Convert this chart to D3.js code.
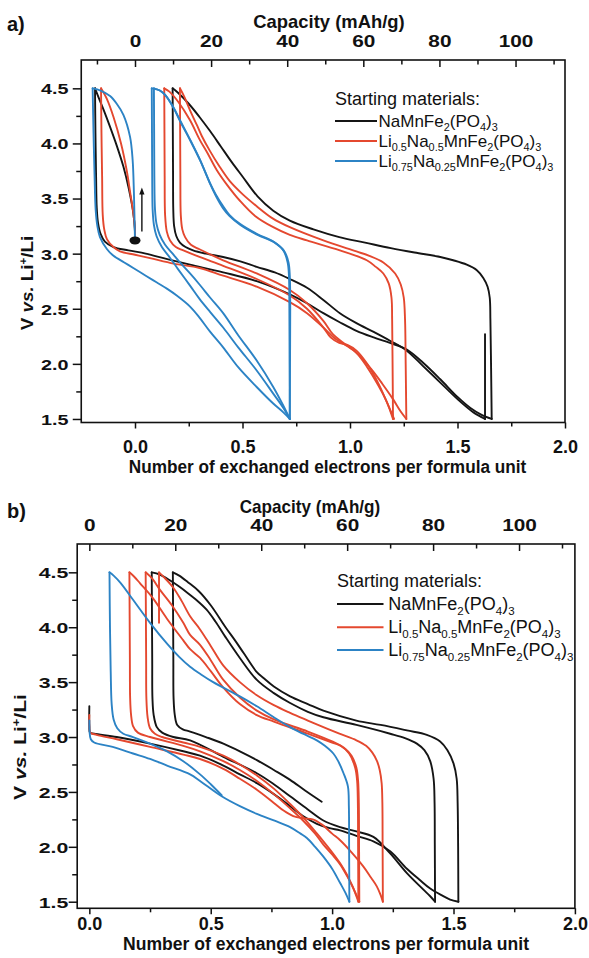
<!DOCTYPE html>
<html>
<head>
<meta charset="utf-8">
<script src="https://cdn.jsdelivr.net/npm/d3@7"></script>
<style>
  html, body { margin: 0; padding: 0; background: #fff; }
  svg { display: block; }
</style>
</head>
<body>
<svg id="fig" width="589" height="958"></svg>
<script>
// ---------------------------------------------------------------------------
// Galvanostatic cycling curves: voltage (V vs. Li+/Li) against the number of
// exchanged electrons per formula unit. Each series is a list of charge /
// discharge segments, each segment a list of [electrons, volts] pairs.
// ---------------------------------------------------------------------------

const seriesNames = [
  "NaMnFe2(PO4)3",
  "Li0.5Na0.5MnFe2(PO4)3",
  "Li0.75Na0.25MnFe2(PO4)3"
];

// capacity (mAh/g) corresponding to one exchanged electron
const capacityPerElectron = 56.5;

const voltTicks = [1.5, 2.0, 2.5, 3.0, 3.5, 4.0, 4.5];
const voltMinorTicks = [1.75, 2.25, 2.75, 3.25, 3.75, 4.25];
const electronTicks = [0.0, 0.5, 1.0, 1.5, 2.0];
const electronMinorTicks = [0.25, 0.75, 1.25, 1.75];
const capacityTicks = [0, 20, 40, 60, 80, 100];
const capacityMinorTicks = [-10, 10, 30, 50, 70, 90, 110];

// ---- panel a ----
const aBlack = [
  [[0,3.12],[0,3.2],[-0.008,3.37],[-0.03,3.6],[-0.054,3.79],[-0.085,3.98],[-0.116,4.15],[-0.145,4.3],[-0.17,4.42],[-0.186,4.5]],
  [[-0.186,4.5],[-0.184,4.1],[-0.181,3.7],[-0.178,3.42],[-0.172,3.28],[-0.16,3.18],[-0.14,3.11],[-0.1,3.06],[-0.03,3.03],[0.05,3.0],[0.15,2.95],[0.256,2.9],[0.41,2.83],[0.566,2.75],[0.72,2.63],[0.8,2.55],[0.876,2.46],[0.95,2.38],[1.03,2.3],[1.11,2.24],[1.186,2.19],[1.264,2.13],[1.34,2.01],[1.42,1.86],[1.5,1.7],[1.56,1.6],[1.61,1.54],[1.659,1.5]],
  [[1.659,1.5],[1.656,2.0],[1.653,2.4],[1.65,2.6],[1.64,2.7],[1.62,2.78],[1.59,2.85],[1.543,2.9],[1.48,2.94],[1.42,2.97],[1.3,3.01],[1.19,3.05],[1.07,3.1],[0.95,3.15],[0.83,3.22],[0.72,3.3],[0.643,3.39],[0.57,3.52],[0.5,3.7],[0.45,3.83],[0.4,3.97],[0.35,4.11],[0.3,4.24],[0.25,4.36],[0.2,4.46],[0.175,4.5]],
  [[0.175,4.5],[0.176,4.1],[0.177,3.7],[0.178,3.4],[0.182,3.25],[0.192,3.16],[0.209,3.1],[0.235,3.06],[0.27,3.03],[0.33,3.0],[0.41,2.97],[0.49,2.93],[0.566,2.88],[0.65,2.83],[0.72,2.77],[0.8,2.69],[0.876,2.58],[0.953,2.46],[1.03,2.37],[1.11,2.29],[1.186,2.21],[1.264,2.12],[1.34,1.98],[1.42,1.83],[1.5,1.68],[1.574,1.56],[1.628,1.5]],
  [[1.628,1.5],[1.628,2.27]]
];

const aRed = [
  [[0,3.12],[0,3.22],[-0.008,3.37],[-0.022,3.55],[-0.039,3.76],[-0.065,4.0],[-0.1,4.24],[-0.13,4.4],[-0.158,4.5]],
  [[-0.158,4.5],[-0.156,4.1],[-0.153,3.7],[-0.15,3.35],[-0.143,3.22],[-0.13,3.13],[-0.1,3.06],[-0.07,3.02],[0,2.99],[0.07,2.96],[0.18,2.91],[0.3,2.87],[0.41,2.8],[0.566,2.7],[0.72,2.56],[0.8,2.46],[0.876,2.33],[0.93,2.23],[0.98,2.17],[1.03,2.1],[1.1,1.95],[1.15,1.82],[1.2,1.68],[1.235,1.57],[1.262,1.5]],
  [[1.262,1.5],[1.259,2.0],[1.256,2.4],[1.25,2.6],[1.236,2.72],[1.21,2.82],[1.155,2.92],[1.09,2.98],[1.03,3.02],[0.876,3.12],[0.72,3.24],[0.64,3.32],[0.566,3.43],[0.5,3.54],[0.44,3.66],[0.39,3.8],[0.349,3.93],[0.31,4.07],[0.287,4.17],[0.256,4.3],[0.23,4.42],[0.209,4.5]],
  [[0.209,4.5],[0.21,4.1],[0.211,3.7],[0.213,3.35],[0.22,3.22],[0.233,3.15],[0.26,3.08],[0.3,3.04],[0.41,2.94],[0.566,2.82],[0.72,2.67],[0.8,2.55],[0.876,2.39],[0.92,2.27],[0.97,2.19],[1.03,2.1],[1.08,1.97],[1.13,1.81],[1.17,1.66],[1.2,1.5]],
  [[1.2,1.5],[1.198,2.0],[1.196,2.4],[1.193,2.6],[1.18,2.73],[1.155,2.82],[1.12,2.88],[1.078,2.94],[0.953,3.03],[0.8,3.12],[0.72,3.17],[0.643,3.24],[0.56,3.34],[0.488,3.48],[0.43,3.62],[0.38,3.76],[0.335,3.92],[0.302,4.03],[0.256,4.21],[0.2,4.38],[0.16,4.47],[0.136,4.5]],
  [[0.136,4.5],[0.137,4.1],[0.138,3.7],[0.14,3.35],[0.148,3.2],[0.163,3.12],[0.19,3.06],[0.225,3.03],[0.3,2.97],[0.41,2.89],[0.566,2.77],[0.72,2.62],[0.8,2.5],[0.876,2.33],[0.91,2.24],[0.95,2.19],[0.99,2.17],[1.03,2.12],[1.08,2.0],[1.13,1.83],[1.17,1.66],[1.205,1.5]]
];

const aBlue = [
  [[0,3.12],[-0.002,3.3],[-0.005,3.55],[-0.011,3.85],[-0.023,4.06],[-0.054,4.26],[-0.085,4.36],[-0.116,4.43],[-0.16,4.48],[-0.197,4.5]],
  [[-0.197,4.5],[-0.193,4.1],[-0.188,3.7],[-0.183,3.4],[-0.175,3.25],[-0.163,3.15],[-0.13,3.04],[-0.1,2.98],[-0.05,2.92],[-0.008,2.87],[0.05,2.8],[0.1,2.74],[0.15,2.68],[0.194,2.62],[0.256,2.52],[0.3,2.42],[0.35,2.29],[0.41,2.15],[0.48,1.97],[0.566,1.79],[0.643,1.64],[0.69,1.56],[0.72,1.5]],
  [[0.72,1.5],[0.719,2.0],[0.718,2.5],[0.716,2.8],[0.71,2.92],[0.69,3.03],[0.643,3.11],[0.566,3.18],[0.488,3.27],[0.44,3.35],[0.41,3.43],[0.375,3.54],[0.349,3.64],[0.302,3.85],[0.256,4.03],[0.21,4.2],[0.178,4.33],[0.14,4.44],[0.116,4.48],[0.078,4.5]],
  [[0.078,4.5],[0.079,4.1],[0.08,3.7],[0.082,3.4],[0.088,3.26],[0.1,3.16],[0.125,3.06],[0.16,2.97],[0.2,2.86],[0.256,2.71],[0.3,2.59],[0.35,2.47],[0.41,2.33],[0.48,2.15],[0.566,1.94],[0.643,1.73],[0.69,1.6],[0.72,1.5]],
  [[0.72,1.5],[0.721,2.0],[0.722,2.5],[0.72,2.8],[0.714,2.92],[0.695,3.02],[0.65,3.1],[0.57,3.17],[0.49,3.26],[0.44,3.34],[0.41,3.41],[0.377,3.52],[0.35,3.63],[0.305,3.84],[0.26,4.02],[0.215,4.19],[0.18,4.32],[0.14,4.44],[0.115,4.48],[0.088,4.5]],
  [[0.088,4.5],[0.089,4.1],[0.09,3.7],[0.093,3.4],[0.1,3.27],[0.115,3.17],[0.14,3.08],[0.175,3.0],[0.209,2.92],[0.256,2.82],[0.3,2.72],[0.35,2.6],[0.41,2.46],[0.48,2.26],[0.566,2.03],[0.643,1.79],[0.69,1.62],[0.72,1.5]]
];

// open-circuit starting point and the arrow marking the first charge
const aStartPoint = [0, 3.12];
const aStartArrow = [[0.032, 3.2], [0.032, 3.6]];

// ---- panel b ----
const bBlack = [
  [[0,3.28],[0,3.1],[0.003,3.04],[0.02,3.03],[0.113,3.0],[0.25,2.94],[0.387,2.87],[0.456,2.83],[0.552,2.74],[0.62,2.66],[0.69,2.58],[0.76,2.48],[0.827,2.37],[0.88,2.28],[0.937,2.21],[0.99,2.17],[1.033,2.15],[1.1,2.1],[1.17,2.05],[1.239,1.96],[1.308,1.8],[1.36,1.7],[1.404,1.62],[1.45,1.56],[1.486,1.52],[1.52,1.5]],
  [[1.52,1.5],[1.519,2.0],[1.517,2.4],[1.513,2.62],[1.5,2.76],[1.475,2.88],[1.445,2.96],[1.39,3.02],[1.308,3.06],[1.2,3.11],[1.1,3.15],[0.964,3.24],[0.9,3.3],[0.827,3.37],[0.76,3.46],[0.716,3.54],[0.69,3.59],[0.637,3.76],[0.6,3.88],[0.561,4.0],[0.5,4.2],[0.45,4.33],[0.406,4.41],[0.37,4.47],[0.344,4.5]],
  [[1.424,1.5],[1.423,2.0],[1.422,2.4],[1.418,2.62],[1.404,2.78],[1.38,2.88],[1.349,2.94],[1.3,2.99],[1.239,3.03],[1.1,3.11],[0.964,3.18],[0.9,3.23],[0.827,3.31],[0.76,3.4],[0.69,3.52],[0.62,3.72],[0.561,3.91],[0.52,4.05],[0.483,4.16],[0.44,4.25],[0.406,4.31],[0.37,4.37],[0.33,4.43],[0.29,4.48],[0.257,4.5]],
  [[0.257,4.5],[0.258,4.1],[0.259,3.7],[0.26,3.35],[0.265,3.2],[0.278,3.09],[0.3,3.04],[0.346,3.0],[0.415,2.97],[0.552,2.82],[0.69,2.67],[0.76,2.57],[0.827,2.46],[0.9,2.34],[0.964,2.24],[1.033,2.18],[1.1,2.14],[1.17,2.09],[1.239,1.94],[1.308,1.76],[1.376,1.61],[1.404,1.55],[1.424,1.5]],
  [[0.344,4.5],[0.345,4.1],[0.346,3.7],[0.347,3.35],[0.352,3.2],[0.362,3.11],[0.385,3.07],[0.415,3.05],[0.48,3.0],[0.552,2.94],[0.62,2.87],[0.69,2.79],[0.76,2.7],[0.827,2.61],[0.89,2.51],[0.957,2.41]]
];

const bRed = [
  [[0,3.2],[0,3.1],[0.004,3.04],[0.03,3.02],[0.113,2.98],[0.25,2.91],[0.387,2.84],[0.456,2.8],[0.552,2.71],[0.62,2.62],[0.69,2.52],[0.76,2.4],[0.8,2.33],[0.84,2.28],[0.88,2.26],[0.92,2.25],[0.96,2.2],[1.0,2.12],[1.033,2.06],[1.08,1.95],[1.129,1.82],[1.16,1.72],[1.184,1.64],[1.2,1.56],[1.209,1.5]],
  [[1.209,1.5],[1.208,2.0],[1.207,2.4],[1.204,2.58],[1.196,2.7],[1.185,2.78],[1.165,2.86],[1.14,2.92],[1.1,2.97],[1.03,3.03],[0.964,3.09],[0.9,3.15],[0.827,3.22],[0.76,3.29],[0.69,3.38],[0.62,3.5],[0.552,3.65],[0.5,3.83],[0.456,3.98],[0.415,4.1],[0.38,4.24],[0.346,4.36],[0.31,4.45],[0.287,4.5]],
  [[1.112,1.5],[1.111,2.0],[1.11,2.4],[1.107,2.6],[1.1,2.72],[1.08,2.83],[1.05,2.9],[1.0,2.96],[0.9,3.05],[0.76,3.16],[0.69,3.24],[0.62,3.36],[0.552,3.52],[0.5,3.7],[0.456,3.84],[0.415,3.93],[0.387,4.04],[0.34,4.2],[0.291,4.34],[0.26,4.44],[0.232,4.5]],
  [[1.108,1.5],[1.107,2.0],[1.106,2.4],[1.103,2.6],[1.095,2.72],[1.07,2.85],[1.035,2.92],[1.0,2.95],[0.9,3.03],[0.76,3.14],[0.69,3.2],[0.62,3.3],[0.552,3.45],[0.5,3.6],[0.456,3.72],[0.415,3.8],[0.387,3.88],[0.319,4.08],[0.26,4.27],[0.209,4.4],[0.185,4.46],[0.165,4.5]],
  [[0.165,4.5],[0.166,4.1],[0.167,3.7],[0.168,3.36],[0.172,3.2],[0.18,3.1],[0.2,3.04],[0.25,3.0],[0.387,2.92],[0.456,2.87],[0.552,2.78],[0.62,2.7],[0.69,2.6],[0.76,2.48],[0.827,2.35],[0.88,2.24],[0.93,2.12],[0.964,2.02],[1.0,1.93],[1.033,1.84],[1.06,1.74],[1.088,1.62],[1.1,1.55],[1.108,1.5]],
  [[0.232,4.5],[0.233,4.1],[0.234,3.7],[0.235,3.35],[0.24,3.18],[0.25,3.08],[0.27,3.03],[0.3,3.0],[0.387,2.95],[0.456,2.91],[0.552,2.83],[0.62,2.75],[0.69,2.65],[0.76,2.53],[0.827,2.39],[0.88,2.27],[0.93,2.14],[0.964,2.05],[1.0,1.95],[1.033,1.85],[1.06,1.75],[1.088,1.62],[1.1,1.56],[1.112,1.5]],
  [[0.287,4.5],[0.287,4.04]]
];

const bBlue = [
  [[0,3.15],[0.001,3.05],[0.006,2.98],[0.02,2.95],[0.096,2.91],[0.18,2.85],[0.25,2.8],[0.32,2.74],[0.415,2.66],[0.456,2.6],[0.545,2.46],[0.62,2.37],[0.69,2.3],[0.76,2.24],[0.827,2.18],[0.87,2.12],[0.896,2.08],[0.93,2.0],[0.964,1.91],[1.0,1.8],[1.033,1.67],[1.055,1.58],[1.071,1.5]],
  [[1.071,1.5],[1.07,2.0],[1.069,2.37],[1.065,2.55],[1.047,2.67],[1.025,2.78],[1.005,2.85],[0.97,2.92],[0.937,2.97],[0.88,3.03],[0.827,3.09],[0.76,3.18],[0.69,3.28],[0.62,3.37],[0.552,3.45],[0.51,3.5],[0.46,3.57],[0.415,3.64],[0.37,3.73],[0.32,3.85],[0.25,4.04],[0.18,4.25],[0.13,4.4],[0.1,4.47],[0.083,4.5]],
  [[0.083,4.5],[0.085,4.0],[0.088,3.6],[0.092,3.3],[0.1,3.16],[0.115,3.08],[0.14,3.03],[0.18,3.0],[0.25,2.94],[0.32,2.87],[0.387,2.78],[0.456,2.66],[0.5,2.57],[0.545,2.47]]
];

// ---------------------------------------------------------------------------
const LINE_COLORS = ["#151515", "#e4482f", "#2c83c5"];
const FONT = "'Liberation Sans', Arial, Helvetica, sans-serif";
const svg = d3.select("#fig");

function styledText(parent, str, x, y, o) {
  const t = parent.append("text")
    .attr("transform", `translate(${x},${y})` + (o.rotate ? ` rotate(${o.rotate})` : "") + ` scale(${o.sx || 1},1)`)
    .attr("text-anchor", o.anchor || "start")
    .attr("font-family", FONT)
    .attr("font-size", o.size)
    .attr("font-weight", o.weight || "bold")
    .attr("fill", "#111");
  if (str !== null) t.text(str);
  return t;
}

// chemical formula: every number becomes a subscript
function formula(textSel, name, size, drop) {
  const parts = name.split(/(\d+(?:\.\d+)?)/).filter(s => s.length);
  let lowered = false;
  parts.forEach(p => {
    const isSub = /^\d/.test(p);
    const ts = textSel.append("tspan").text(p);
    if (isSub) {
      ts.attr("font-size", size * 0.64);
      if (!lowered) { ts.attr("dy", drop); lowered = true; }
    } else {
      ts.attr("font-size", size);
      if (lowered) { ts.attr("dy", -drop); lowered = false; }
    }
  });
}

function drawPanel(cfg) {
  const g = svg.append("g");
  const x = d3.scaleLinear().domain(cfg.xDomain).range([cfg.left, cfg.right]);
  const y = d3.scaleLinear().domain(cfg.yDomain).range([cfg.bottom, cfg.top]);
  const cap = d3.scaleLinear()
    .domain(cfg.xDomain.map(v => v * capacityPerElectron))
    .range([cfg.left, cfg.right]);

  const clipId = "clip-" + cfg.id;
  g.append("clipPath").attr("id", clipId).append("rect")
    .attr("x", cfg.left).attr("y", cfg.top)
    .attr("width", cfg.right - cfg.left).attr("height", cfg.bottom - cfg.top);

  // curves
  const line = d3.line()
    .x(d => x(d[0])).y(d => y(d[1]))
    .curve(d3.curveCatmullRom.alpha(0.5));
  const plot = g.append("g").attr("clip-path", `url(#${clipId})`);
  cfg.series.forEach((segs, i) => {
    plot.append("g").selectAll("path").data(segs).join("path")
      .attr("d", line)
      .attr("fill", "none")
      .attr("stroke", LINE_COLORS[i])
      .attr("stroke-width", 1.9)
      .attr("stroke-linejoin", "round")
      .attr("stroke-linecap", "round");
  });

  if (cfg.startPoint) {
    plot.append("ellipse")
      .attr("cx", x(cfg.startPoint[0])).attr("cy", y(cfg.startPoint[1]))
      .attr("rx", 5.5).attr("ry", 4).attr("fill", "#111");
  }
  if (cfg.arrow) {
    const [p0, p1] = cfg.arrow;
    plot.append("line")
      .attr("x1", x(p0[0])).attr("y1", y(p0[1]))
      .attr("x2", x(p1[0])).attr("y2", y(p1[1]) + 5)
      .attr("stroke", "#111").attr("stroke-width", 1.4);
    const hx = x(p1[0]), hy = y(p1[1]);
    plot.append("path")
      .attr("d", `M${hx},${hy} L${hx - 2.6},${hy + 7} L${hx + 2.6},${hy + 7} Z`)
      .attr("fill", "#111");
  }

  // frame
  g.append("rect")
    .attr("x", cfg.left).attr("y", cfg.top)
    .attr("width", cfg.right - cfg.left).attr("height", cfg.bottom - cfg.top)
    .attr("fill", "none").attr("stroke", "#111").attr("stroke-width", 1.6);

  const styleAxis = sel => {
    sel.select(".domain").remove();
    sel.selectAll(".tick line").attr("stroke", "#111").attr("stroke-width", 1.5);
    sel.attr("font-family", FONT).attr("font-weight", "bold");
  };
  const inDomain = (vals, sc) => {
    const [a, b] = sc.domain();
    return vals.filter(v => v >= Math.min(a, b) - 1e-9 && v <= Math.max(a, b) + 1e-9);
  };

  // bottom axis (electrons)
  g.append("g").attr("transform", `translate(0,${cfg.bottom})`)
    .call(d3.axisBottom(x).tickValues(electronMinorTicks).tickSize(4).tickFormat(""))
    .call(styleAxis);
  const bAx = g.append("g").attr("transform", `translate(0,${cfg.bottom})`)
    .call(d3.axisBottom(x).tickValues(electronTicks).tickSize(6).tickFormat(d3.format(".1f")))
    .call(styleAxis);
  bAx.selectAll("text")
    .attr("dy", null).attr("y", cfg.bottomTickBaseline - cfg.bottom)
    .attr("font-size", 18).attr("fill", "#111");

  // left axis (volts)
  g.append("g").attr("transform", `translate(${cfg.left},0)`)
    .call(d3.axisLeft(y).tickValues(voltMinorTicks).tickSize(5).tickFormat(""))
    .call(styleAxis);
  const lAx = g.append("g").attr("transform", `translate(${cfg.left},0)`)
    .call(d3.axisLeft(y).tickValues(voltTicks).tickSize(8.5).tickFormat(d3.format(".1f")))
    .call(styleAxis);
  lAx.selectAll("text")
    .attr("dy", null).attr("y", 5.4)
    .attr("x", -(cfg.left - cfg.yTickRight) / cfg.yTickSx)
    .attr("transform", `scale(${cfg.yTickSx},1)`)
    .attr("font-size", 15.2).attr("fill", "#111");

  // top axis (capacity), ticks pointing inward
  g.append("g").attr("transform", `translate(0,${cfg.top})`)
    .call(d3.axisTop(cap).tickValues(inDomain(capacityMinorTicks, cap)).tickSize(-4.5).tickFormat(""))
    .call(styleAxis);
  const tAx = g.append("g").attr("transform", `translate(0,${cfg.top})`)
    .call(d3.axisTop(cap).tickValues(inDomain(capacityTicks, cap)).tickSize(-7).tickFormat(d3.format("d")))
    .call(styleAxis);
  tAx.selectAll("text")
    .attr("dy", null).attr("y", cfg.topTickBaseline - cfg.top)
    .attr("transform", "scale(1.3,1)")
    .attr("font-size", 16).attr("fill", "#111");

  // titles
  styledText(g, cfg.letter, cfg.letterPos[0], cfg.letterPos[1], { size: 20 });
  styledText(g, "Capacity (mAh/g)", cfg.capTitle[0], cfg.capTitle[1],
    { size: cfg.capSize, sx: cfg.capSx, anchor: "middle" });
  styledText(g, "Number of exchanged electrons per formula unit", cfg.xTitle[0], cfg.xTitle[1],
    { size: 18.5, sx: cfg.xTitleSx, anchor: "middle" });

  const yl = styledText(g, null, cfg.yTitle[0], cfg.yTitle[1],
    { size: 16.2, sx: cfg.yTitleSx, anchor: "middle", rotate: -90 });
  yl.append("tspan").text("V ");
  yl.append("tspan").attr("font-style", "italic").text("vs.");
  yl.append("tspan").text(" Li");
  yl.append("tspan").attr("font-size", 10).attr("dy", -6).text("+");
  yl.append("tspan").attr("dy", 6).text("/Li");

  // legend
  const L = cfg.legend;
  styledText(g, "Starting materials:", L.x, L.headBaseline, { size: L.headSize, weight: "normal" });
  seriesNames.forEach((name, i) => {
    const ry = L.rows[i];
    g.append("line")
      .attr("x1", L.x).attr("x2", L.lineEnd)
      .attr("y1", ry).attr("y2", ry)
      .attr("stroke", LINE_COLORS[i]).attr("stroke-width", 1.9);
    const t = styledText(g, null, L.textX, ry + L.textDrop, { size: L.size, weight: "normal" });
    formula(t, name, L.size, L.subDrop);
  });
}

drawPanel({
  id: "a",
  xDomain: [-0.25, 2.0], yDomain: [1.468, 4.757],
  left: 81.25, right: 565, top: 60, bottom: 422.5,
  series: [aBlack, aRed, aBlue],
  startPoint: aStartPoint, arrow: aStartArrow,
  bottomTickBaseline: 452.7, topTickBaseline: 46.5,
  yTickRight: 68.5, yTickSx: 1.3,
  letter: "a)", letterPos: [7, 31],
  capTitle: [329, 28], capSize: 19, capSx: 0.97,
  xTitle: [327.5, 473.3], xTitleSx: 0.93,
  yTitle: [33.3, 283], yTitleSx: 1.16,
  legend: { x: 335, lineEnd: 377, textX: 378.5, headBaseline: 105, headSize: 18,
            rows: [121, 141, 161], textDrop: 5.5, size: 17, subDrop: 4 }
});

drawPanel({
  id: "b",
  xDomain: [-0.05, 2.0], yDomain: [1.44, 4.758],
  left: 77.2, right: 574.9, top: 544, bottom: 908.3,
  series: [bBlack, bRed, bBlue],
  bottomTickBaseline: 930, topTickBaseline: 531,
  yTickRight: 68.3, yTickSx: 1.4,
  letter: "b)", letterPos: [7, 518],
  capTitle: [310, 513], capSize: 18, capSx: 0.95,
  xTitle: [326, 950], xTitleSx: 0.95,
  yTitle: [25.5, 747], yTitleSx: 1.3,
  legend: { x: 337, lineEnd: 383.5, textX: 388.3, headBaseline: 586.7, headSize: 18,
            rows: [604, 627.3, 650], textDrop: 6, size: 18, subDrop: 4.5 }
});
</script>
</body>
</html>
